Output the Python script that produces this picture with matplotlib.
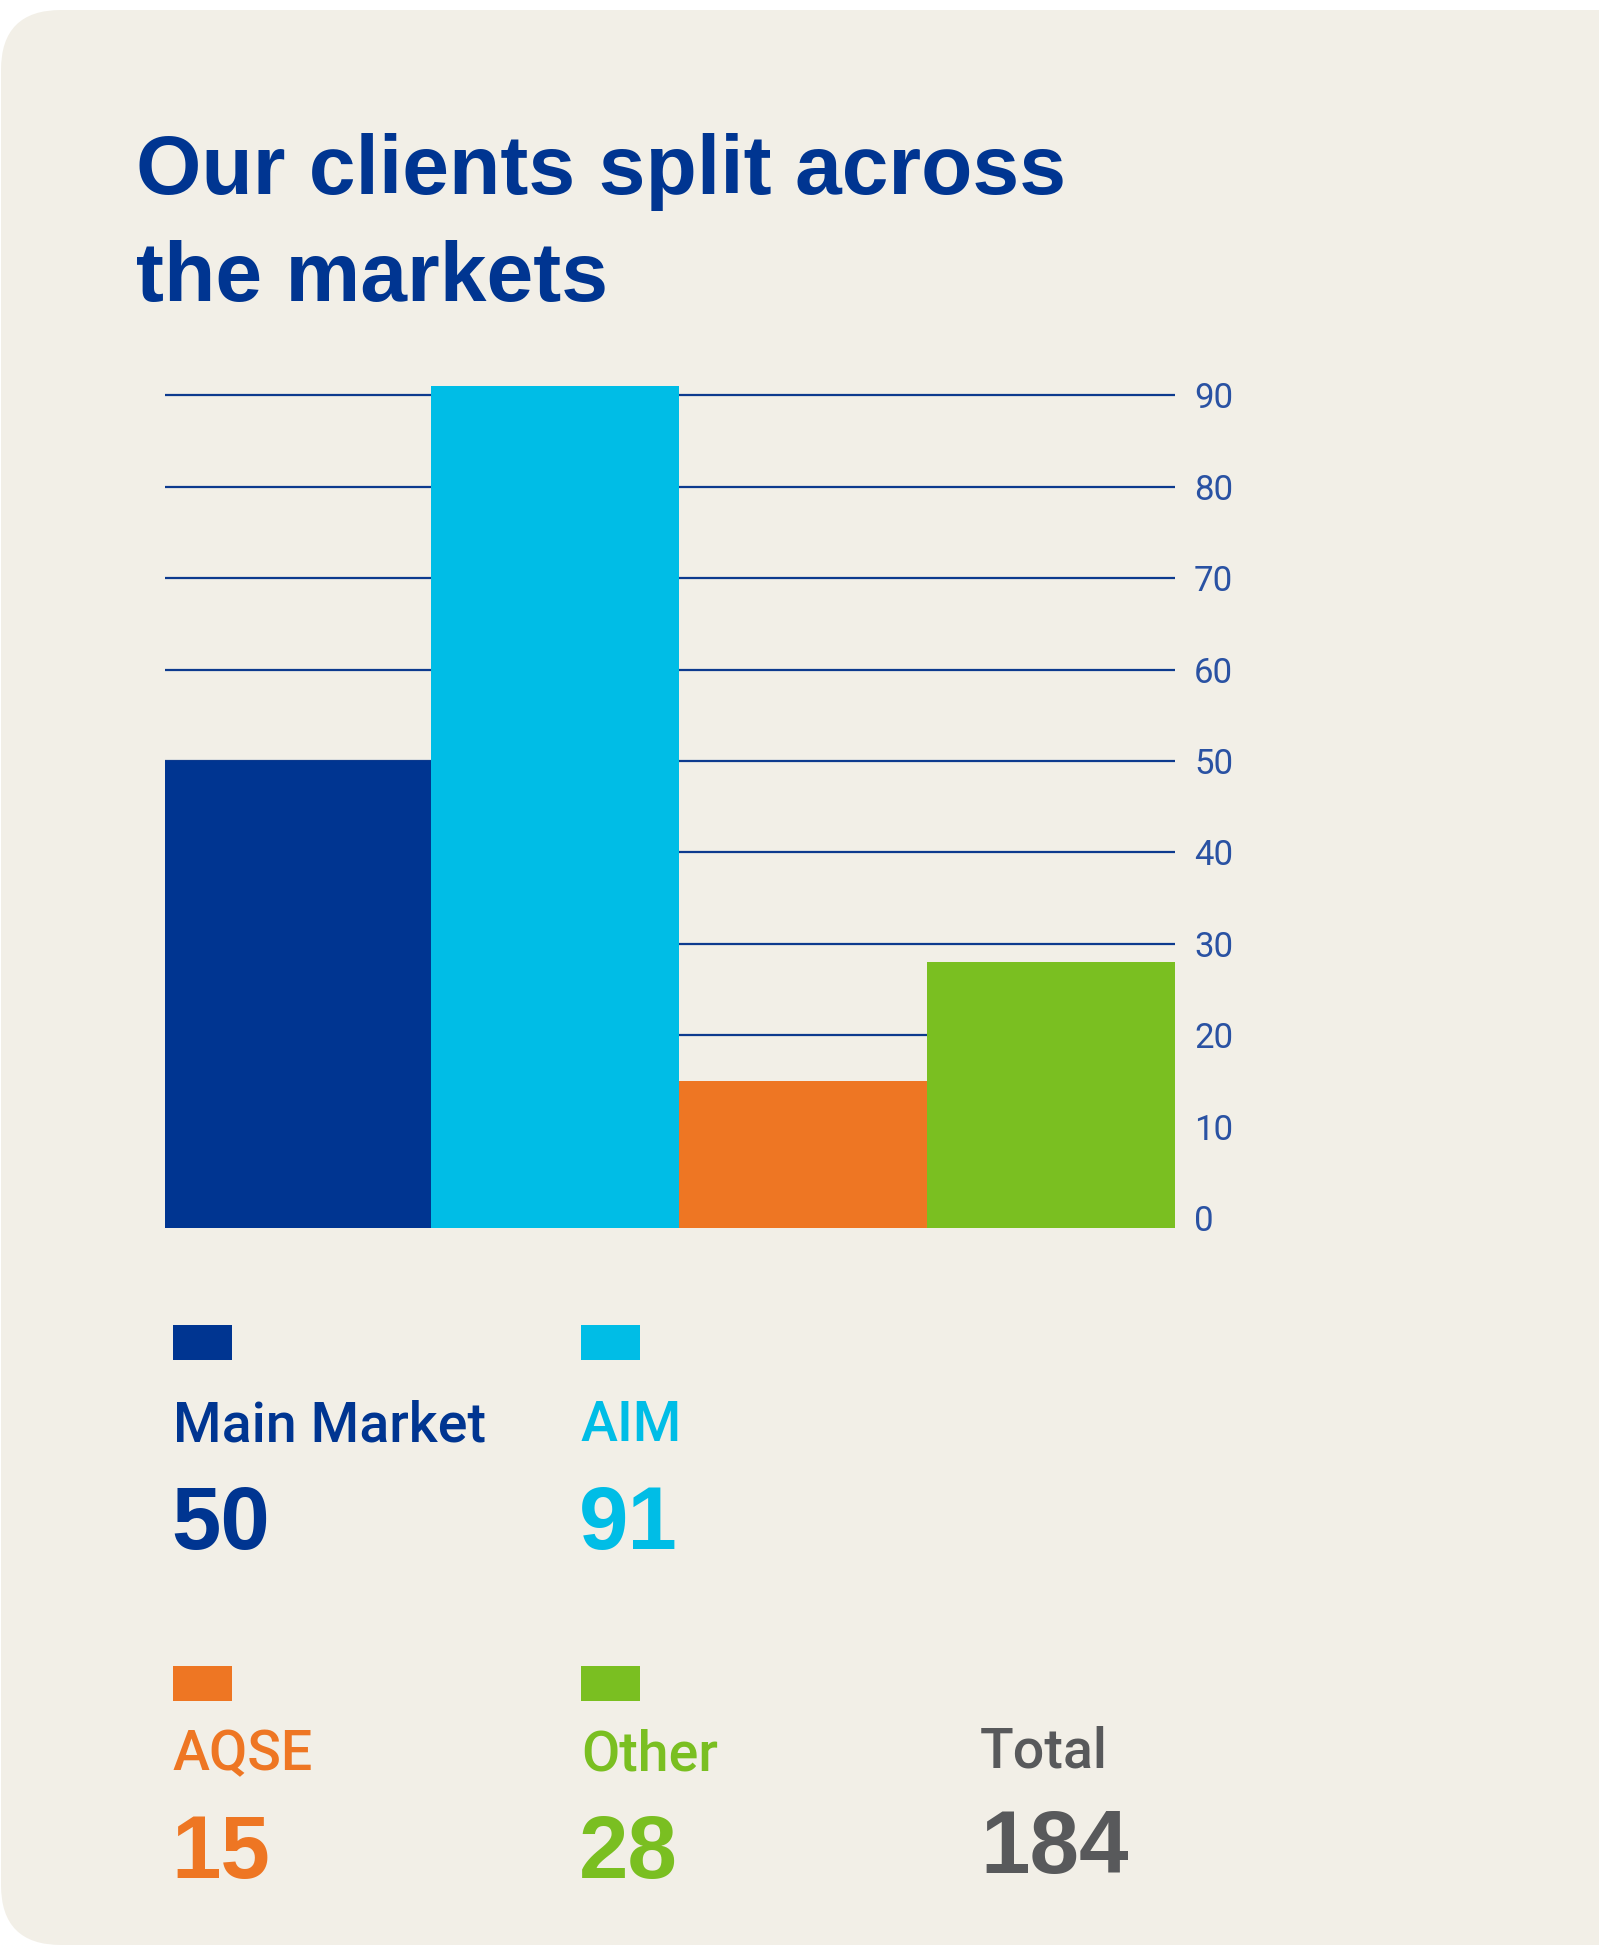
import matplotlib.pyplot as plt
from matplotlib.patches import FancyBboxPatch, Rectangle
import numpy as np

# data
markets = ['Main Market', 'AIM', 'AQSE', 'Other']
clients = [50, 91, 15, 28]
total = 184
colors = ['#003591', '#00bde6', '#ee7623', '#7abf21']
yticks = [0, 10, 20, 30, 40, 50, 60, 70, 80, 90]

W, H = 1599, 1946
bg_col = '#f2efe7'
navy = '#003591'
tick_col = '#2a52a3'
grid_col = '#0d3a8e'

fig = plt.figure(figsize=(W / 100, H / 100), dpi=100, facecolor='white')

# background card, pixel coords
bg = fig.add_axes([0, 0, 1, 1])
bg.set_xlim(0, W)
bg.set_ylim(H, 0)
bg.axis('off')
bg.add_patch(FancyBboxPatch((1, 10), 1900, 1935,
                            boxstyle='round,pad=0,rounding_size=60',
                            fc=bg_col, ec='none'))

# title
bg.text(136, 194, 'Our clients split across', color=navy, fontsize=60.5,
        family='Liberation Sans', fontweight='bold', va='baseline')
bg.text(136, 301, 'the markets', color=navy, fontsize=60.5,
        family='Liberation Sans', fontweight='bold', va='baseline')

# chart axes placed in pixels
px_left, px_right, px_floor = 164.7, 1174.6, 1228
px_per_unit = 9.142
y0 = -1.09          # bars sit on the card floor slightly below 0
ytop = 94
ax = fig.add_axes([px_left / W, (H - px_floor) / H,
                   (px_right - px_left) / W, (ytop - y0) * px_per_unit / H])
ax.patch.set_alpha(0)

widths = np.array([1.077, 1, 1, 1])
lefts = np.concatenate([[0], np.cumsum(widths)[:-1]])
ax.bar(lefts, np.array(clients) - y0, bottom=y0, width=widths, align='edge',
       color=colors, linewidth=0, zorder=3)
ax.set_xlim(0, widths.sum())
ax.set_ylim(y0, ytop)

ax.set_yticks(yticks)
ax.yaxis.tick_right()
ax.tick_params(axis='y', length=0, pad=14, labelsize=25, labelcolor=tick_col)
for lab in ax.get_yticklabels():
    lab.set_family('Roboto')
    lab.set_fontweight('normal')
    lab.set_horizontalalignment('left')
ax.set_xticks([])
ax.yaxis.grid(True, color=grid_col, linewidth=1.6)
ax.set_axisbelow(True)
for s in ax.spines.values():
    s.set_visible(False)

# legend blocks
cols_x = [173, 581, 173, 581]
sq_top = [1325, 1325, 1665.5, 1665.5]
lab_base = [1441, 1441, 1770.5, 1770.5]
num_base = [1548.5, 1548.5, 1877.7, 1877.7]
for i in range(4):
    bg.add_patch(Rectangle((cols_x[i], sq_top[i]), 59, 35, fc=colors[i], ec='none'))
    bg.text(cols_x[i], lab_base[i], markets[i], color=colors[i], fontsize=40,
            family='Roboto', fontweight='medium', va='baseline')
    bg.text(cols_x[i] - 2, num_base[i], str(clients[i]), color=colors[i],
            fontsize=64, family='Liberation Sans', fontweight='bold', va='baseline')

bg.text(980, 1767, 'Total', color='#58595b', fontsize=40,
        family='Roboto', fontweight='medium', va='baseline')
bg.text(980, 1873.5, str(total), color='#58595b', fontsize=64,
        family='Liberation Sans', fontweight='bold', va='baseline')

fig.savefig('out.png', dpi=100, facecolor='white')
